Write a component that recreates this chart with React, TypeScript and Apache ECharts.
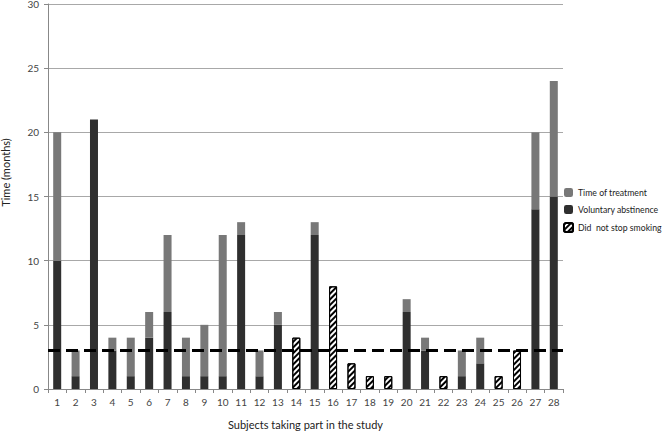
import React, { useEffect, useRef } from "react";
import * as echarts from "echarts";

const subjects = ["1","2","3","4","5","6","7","8","9","10","11","12","13","14","15","16","17","18","19","20","21","22","23","24","25","26","27","28"];
const voluntary = [10, 1, 21, 3, 1, 4, 6, 1, 1, 1, 12, 1, 5, null, 12, null, null, null, null, 6, 3, null, 1, 2, null, null, 14, 15];
const treatment = [10, 2, 0, 1, 3, 2, 6, 3, 4, 11, 1, 2, 1, null, 1, null, null, null, null, 1, 1, null, 2, 2, null, null, 6, 9];
const notStopped = [null, null, null, null, null, null, null, null, null, null, null, null, null, 4, null, 8, 2, 1, 1, null, null, 1, null, null, 1, 3, null, null];
const threshold = 3;
const yTicks = [0, 5, 10, 15, 20, 25, 30];

const FONT = "Lato, 'Open Sans', sans-serif";

export default function App() {
  const ref = useRef<HTMLDivElement>(null);
  useEffect(() => {
    const chart = echarts.init(ref.current!, null, { renderer: "svg" });
    chart.setOption({
      animation: false,
      textStyle: { fontFamily: FONT },
      grid: { left: 48, right: 102, top: 4, bottom: 42, containLabel: false, outerBoundsMode: "none" },
      legend: {
        orient: "vertical",
        left: 558,
        top: 183,
        itemWidth: 9,
        itemHeight: 9,
        itemGap: 8,
        textStyle: { fontSize: 8.7, color: "#222" },
        data: ["Time of treatment", "Voluntary abstinence", "Did  not stop smoking"],
      },
      xAxis: {
        type: "category",
        data: subjects,
        name: "Subjects taking part in the study",
        nameLocation: "middle",
        nameGap: 30,
        nameTextStyle: { fontSize: 11, color: "#222" },
        axisLine: { lineStyle: { color: "#888" } },
        axisTick: { show: true, length: 4, lineStyle: { color: "#888" } },
        axisLabel: { fontSize: 10, color: "#444", margin: 8 },
      },
      yAxis: {
        type: "value",
        min: yTicks[0],
        max: yTicks[yTicks.length - 1],
        interval: 5,
        name: "Time (months)",
        nameLocation: "middle",
        nameGap: 37,
        nameTextStyle: { fontSize: 11, color: "#222", padding: [0, 0, 0, 48] },
        axisLine: { show: true, lineStyle: { color: "#888" } },
        axisTick: { show: true, length: 4, lineStyle: { color: "#888" } },
        axisLabel: { fontSize: 10, color: "#444", margin: 9 },
        splitLine: { lineStyle: { color: "#a8a8a8", width: 1 } },
      },
      series: [
        {
          name: "Voluntary abstinence",
          type: "bar",
          stack: "s",
          barWidth: 8,
          data: voluntary,
          itemStyle: { color: "#2f2f2f" },
          markLine: {
            silent: true,
            symbol: "none",
            label: { show: false },
            lineStyle: { color: "#000", width: 3, type: [12, 6] },
            data: [{ yAxis: threshold }],
            z: 10,
          },
        },
        {
          name: "Time of treatment",
          type: "bar",
          stack: "s",
          barWidth: 8,
          data: treatment,
          itemStyle: { color: "#787878" },
        },
        {
          name: "Did  not stop smoking",
          type: "bar",
          stack: "s",
          barWidth: 8,
          data: notStopped,
          itemStyle: {
            color: "#ffffff",
            borderColor: "#000",
            borderWidth: 1,
            decal: {
              symbol: "rect",
              color: "#000",
              backgroundColor: "#fff",
              dashArrayX: [1, 0],
              dashArrayY: [1.5, 2],
              rotation: -Math.PI / 4,
              symbolSize: 1,
            },
          },
        },
      ],
    });
    return () => chart.dispose();
  }, []);
  return <div ref={ref} style={{ width: 665, height: 431, position: "absolute", left: 0, top: 0 }} />;
}
